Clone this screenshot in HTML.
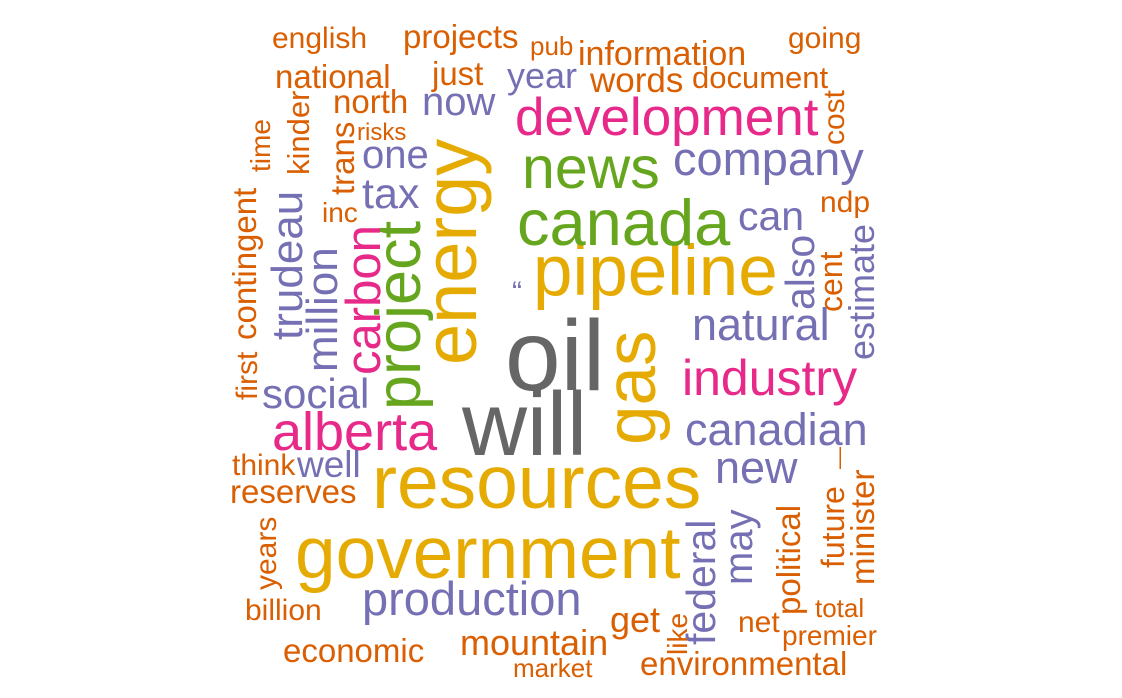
<!DOCTYPE html>
<html><head><meta charset="utf-8"><style>
html,body{margin:0;padding:0;background:#fff;}
svg{display:block;font-family:"Liberation Sans",Arial,sans-serif;}
</style></head><body>
<svg width="1122" height="698" viewBox="0 0 1122 698">
<g id="words"></g>
</svg>
<script>
const words = ["oil","will","resources","government","pipeline","canada","news","development","company","energy","gas","project","carbon","alberta","industry","canadian","natural","production","new","social","tax","one","now","year","can","also","estimate","trudeau","million","well","federal","may","english","projects","pub","information","going","national","just","words","document","north","risks","inc","ndp","cost","cent","kinder","trans","time","contingent","first","think","reserves","years","billion","economic","mountain","market","get","like","environmental","net","premier","total","political","future","minister","\u2014","\u201c"];
const sizes = [100,90,75,73,71,65,59,53,47,74,71,63,49,54,50,45,45,47,45,42,43,40,40,36,41,41,36,44,44,37,41,40,30,33,26,34,30,33,33,35,31,33,24,28,30,30,32,31,33,28,33,30,30,33,30,30,33,36,26,36,28,33,30,28,26,33,32,33,22,30];
const colorKeys = ["k","k","y","y","y","g","g","p","b","y","y","g","p","p","p","b","b","b","b","b","b","b","b","b","b","b","b","b","b","b","b","b","o","o","o","o","o","o","o","o","o","o","o","o","o","o","o","o","o","o","o","o","o","o","o","o","o","o","o","o","o","o","o","o","o","o","o","o","o","b"];
const layout = [
[505,390,0],[462,455,0],[372,508,0],[295,578,0],[533,295,0],[517,245,0],[522,188,0],[515,135,0],[673,175,0],
[476,365,1],[655,445,1],[420,410,1],[380,375,1],[272,450,0],[682,395,0],[685,445,0],[692,340,0],[362,615,0],
[715,483,0],[262,408,0],[362,208,0],[362,168,0],[422,115,0],[507,88,0],[738,230,0],[814,310,1],[874,360,1],
[302,340,1],[337,372,1],[297,477,0],[715,645,1],[752,585,1],
[272,48,0],[403,48,0],[530,55,0],[578,65,0],[788,48,0],[275,88,0],[432,85,0],[590,92,0],[692,88,0],[333,113,0],
[357,140,0],[322,222,0],[820,212,0],[844,145,1],[842,312,1],[309,175,1],[354,195,1],[270,172,1],[256,340,1],
[257,400,1],[232,475,0],[230,503,0],[276,590,1],[245,620,0],[283,662,0],[460,655,0],[513,677,0],[610,632,0],
[687,655,1],[640,675,0],[738,632,0],[782,645,0],[815,617,0],[800,615,1],[844,568,1],[874,585,1],[846,469,1],[512,302,0]
];
const palette = {k:"#666666",y:"#E6AB02",g:"#66A61E",p:"#E7298A",b:"#7570B3",o:"#D95F02"};
const g = document.getElementById('words');
words.forEach((w,i)=>{
  const t = document.createElementNS('http://www.w3.org/2000/svg','text');
  const [x,y,r] = layout[i];
  
  
  t.setAttribute('font-size', sizes[i]);
  t.setAttribute('fill', palette[colorKeys[i]]);
  if (r) t.setAttribute('transform', `translate(${x},${y}) rotate(-90)`);
  else { t.setAttribute('x', x); t.setAttribute('y', y); }
  t.textContent = w;
  g.appendChild(t);
});
</script>
</body></html>
